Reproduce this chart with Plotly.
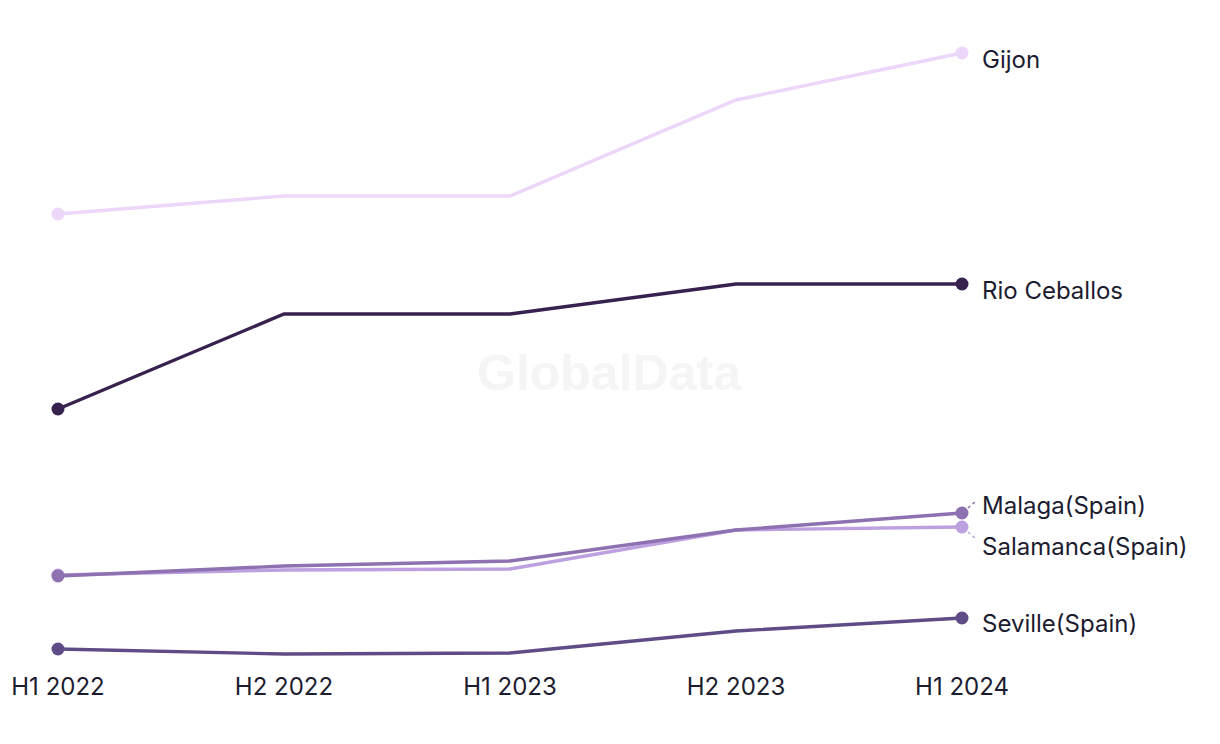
import plotly.graph_objects as go

periods = ["H1 2022", "H2 2022", "H1 2023", "H2 2023", "H1 2024"]
gijon = [48.6, 50.4, 50.4, 60.0, 64.7]
rio_ceballos = [29.1, 38.6, 38.6, 41.6, 41.6]
malaga = [12.4, 13.4, 13.9, 17.0, 18.7]
salamanca = [12.5, 13.0, 13.1, 17.0, 17.3]
seville = [5.1, 4.6, 4.7, 6.9, 8.2]

series = [
    ("Gijon", gijon, "#ecd6f9", -6),
    ("Rio Ceballos", rio_ceballos, "#36214f", -6),
    ("Salamanca(Spain)", salamanca, "#bca0df", -19),
    ("Malaga(Spain)", malaga, "#8e71b0", 8),
    ("Seville(Spain)", seville, "#5f4b86", -5),
]

FONT = "Inter, Liberation Sans, sans-serif"
TXT = "#1c1c30"

fig = go.Figure()
idx = list(range(len(periods)))
for name, vals, col, _ in series:
    fig.add_trace(go.Scatter(
        x=idx, y=vals, mode="lines", name=name,
        line=dict(color=col, width=3.4), hoverinfo="skip", showlegend=False))
    fig.add_trace(go.Scatter(
        x=[idx[0], idx[-1]], y=[vals[0], vals[-1]], mode="markers",
        marker=dict(color=col, size=13), hoverinfo="skip", showlegend=False))

for name, vals, col, ys in series:
    fig.add_annotation(x=idx[-1], y=vals[-1], xref="x", yref="y",
                       text=name, showarrow=False, xanchor="left", yanchor="middle",
                       xshift=18, yshift=ys,
                       font=dict(family=FONT, size=24, color=TXT))

# leader lines for the close pair
fig.add_shape(type="line", xref="x", yref="y", xsizemode="pixel", ysizemode="pixel",
              xanchor=idx[-1], yanchor=malaga[-1], x0=6, x1=14, y0=5, y1=12,
              line=dict(color="#8e71b0", width=1.5, dash="dot"))
fig.add_shape(type="line", xref="x", yref="y", xsizemode="pixel", ysizemode="pixel",
              xanchor=idx[-1], yanchor=salamanca[-1], x0=6, x1=14, y0=-5, y1=-12,
              line=dict(color="#bca0df", width=1.5, dash="dot"))

fig.add_annotation(x=0.4934, y=0.447, xref="paper", yref="paper", text="<b>GlobalData</b>",
                   showarrow=False, font=dict(family="Liberation Sans, Arial, sans-serif",
                                              size=50, color="#f5f5f5"))

fig.update_layout(
    width=1220, height=744,
    margin=dict(l=0, r=0, t=0, b=84),
    paper_bgcolor="white", plot_bgcolor="white",
    xaxis=dict(range=[-0.2212, 5.177], tickvals=idx, ticktext=periods,
               showgrid=False, zeroline=False, showline=False, ticks="",
               ticklabelstandoff=2,
               tickfont=dict(family=FONT, size=24, color=TXT)),
    yaxis=dict(range=[3.2, 69.2], visible=False, showgrid=False, zeroline=False),
)

fig.write_html("out.html")
